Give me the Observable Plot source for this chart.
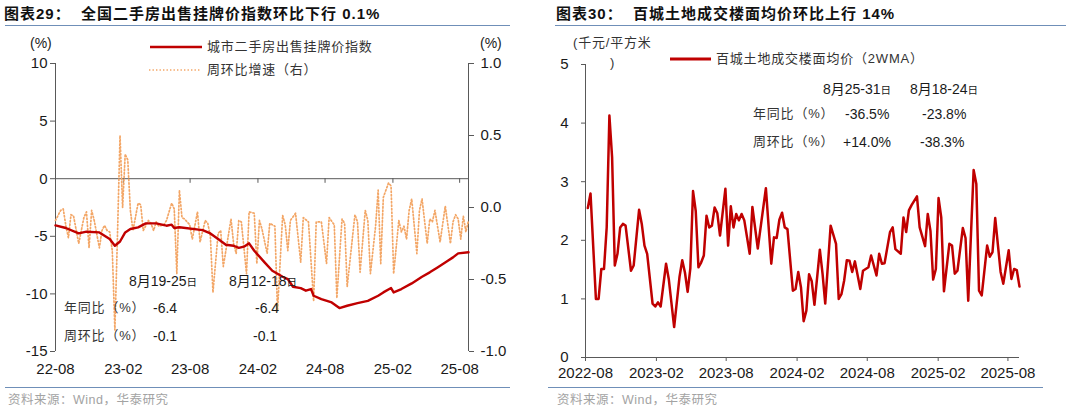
<!DOCTYPE html>
<html><head><meta charset="utf-8">
<script src="https://cdn.jsdelivr.net/npm/d3@7"></script>
<script src="https://cdn.jsdelivr.net/npm/@observablehq/plot@0.6"></script>
<style>
body{margin:0;background:#fff;overflow:hidden;}
#root{position:relative;width:1080px;height:410px;background:#fff;}
.abs{position:absolute;white-space:pre;line-height:20px;height:20px;}
.title{font-family:"Liberation Sans","Noto Sans CJK SC",sans-serif;font-weight:700;font-size:15px;letter-spacing:1px;color:#111;}
.hr{position:absolute;height:0;border-top:1.5px solid #6f8fb8;}
.src{font-family:"Liberation Sans","Noto Sans CJK SC",sans-serif;font-size:12.5px;color:#a3a3a3;letter-spacing:0.5px;}
.cjk{font-family:"Liberation Sans","Noto Sans CJK SC",sans-serif;font-size:13px;color:#333;letter-spacing:0.8px;}
.num{font-family:"Liberation Sans","Noto Sans CJK SC",sans-serif;font-size:14px;color:#1a1a1a;}
.sm{font-size:10.5px;}
</style></head><body>
<div id="root"></div>
<script>
// ---------- Data: left panel (全国二手房出售挂牌价指数), weekly, week index from 2022-08-01 ----------
const yoyWeeks  = [0,4,9,12,17,21,23,25,27,29,32,35,39,43,45,46,48,57,60,63,66,69,71,73,75,77,81,84,88,90,92,95,97,99,100,103,107,110,113,117,121,125,127,130,131,134,138,142,145,148,152,154,156,160];
const yoyValues = [-4.05,-4.28,-4.75,-4.60,-4.66,-5.24,-5.82,-5.45,-4.66,-4.37,-4.22,-3.88,-3.88,-4.08,-3.99,-4.28,-4.22,-4.46,-4.75,-5.24,-5.73,-5.82,-6.00,-5.90,-5.61,-6.25,-7.26,-7.99,-8.51,-8.71,-9.38,-9.50,-9.72,-9.58,-10.16,-10.45,-10.74,-11.23,-11.03,-10.80,-10.60,-10.16,-9.87,-9.49,-9.87,-9.58,-9.09,-8.51,-8.13,-7.70,-7.12,-6.83,-6.48,-6.39];

const wowWeeks  = [0,2,3,4,5,6,7,9,11,12,13,14,15,17,18,19,20,21,22,23,24,25,26,27,28,29,30,32,33,34,36,37,38,39,40,42,43,45,46,47,48,49,50,52,53,55,56,58,59,60,61,63,64,65,68,69,70,71,72,74,75,77,78,79,80,82,83,85,86,88,89,90,91,93,95,96,98,100,101,103,105,106,108,109,111,112,113,116,117,118,120,121,122,124,125,126,127,129,130,131,133,134,135,136,137,138,140,141,142,144,145,146,147,149,151,153,154,155,156,157,158,159,160];
const wowValues = [-0.09,-0.02,-0.01,-0.125,-0.21,-0.05,-0.06,-0.25,-0.07,-0.03,-0.28,-0.02,-0.09,-0.28,-0.16,-0.125,-0.16,-0.17,-0.30,-0.85,-0.20,0.50,0.00,0.37,0.33,-0.02,-0.16,0.03,0.02,-0.16,-0.09,-0.11,-0.16,-0.10,-0.13,-0.12,-0.09,0.03,-0.01,-0.46,0.12,-0.07,-0.08,-0.12,-0.22,-0.03,-0.24,-0.09,-0.11,-0.20,-0.59,-0.18,-0.16,-0.41,-0.08,-0.25,-0.32,-0.09,-0.10,-0.46,-0.03,-0.04,-0.39,-0.09,-0.15,-0.32,-0.11,-0.13,-0.72,-0.055,-0.12,-0.30,-0.09,-0.04,-0.38,-0.07,-0.10,-0.65,-0.10,-0.10,-0.39,-0.07,-0.12,-0.63,-0.08,-0.11,-0.55,-0.05,-0.10,-0.45,-0.02,-0.09,-0.46,-0.13,0.12,-0.39,0.07,0.17,0.15,-0.46,-0.09,-0.17,-0.13,-0.22,-0.02,0.06,-0.32,-0.02,0.06,-0.25,-0.08,-0.10,-0.02,-0.24,0.01,-0.25,-0.10,-0.05,-0.08,-0.22,-0.06,-0.17,-0.09];

const leftYTicks   = [-15,-10,-5,0,5,10];
const rightYTicks  = [-1.0,-0.5,0.0,0.5,1.0];
const leftXTicks   = ["2022-08-01","2023-02-01","2023-08-01","2024-02-01","2024-08-01","2025-02-01","2025-08-01"];
const leftXLabels  = ["22-08","23-02","23-08","24-02","24-08","25-02","25-08"];

// ---------- Data: right panel (百城土地成交楼面均价 2WMA), weekly, week index from 2022-08-07 ----------
const landWeeks  = [0,1,3,4,5,6,7,8,9,10,11,12,13,14,16,17,19,20,21,22,24,25,26,27,29,30,32,34,35,36,37,38,39,40,41,42,43,44,45,46,47,48,49,51,52,53,54,55,56,57,58,60,61,63,66,68,69,70,71,72,73,74,76,77,78,79,80,81,82,83,84,86,87,88,90,92,93,94,95,96,97,98,99,101,102,104,105,107,108,109,110,112,113,114,116,117,118,119,120,122,123,125,126,127,128,129,130,131,132,134,135,136,137,139,140,141,143,144,145,146,148,149,150,151,153,154,156,157,158,159,160];
const landValues = [2.55,2.80,1.00,1.00,1.51,1.51,2.22,4.13,3.42,1.57,1.77,2.22,2.28,2.25,1.48,1.57,2.52,2.28,1.91,1.77,0.92,0.87,0.94,0.87,1.60,1.34,0.52,1.38,1.66,1.45,1.12,1.52,2.84,2.50,1.54,1.62,1.74,2.42,2.22,2.25,2.56,2.46,2.08,2.88,1.91,2.58,2.22,2.45,2.34,2.45,2.34,1.77,2.57,1.86,2.89,1.60,2.05,2.04,2.35,2.47,2.22,2.19,1.14,1.17,1.46,1.20,0.62,0.80,1.42,1.30,0.90,1.84,1.43,0.92,2.25,1.94,1.00,1.08,1.31,1.66,1.65,1.46,1.64,1.17,1.48,1.54,1.74,1.40,1.77,1.60,1.61,2.14,2.22,1.85,1.77,2.39,2.14,2.51,2.60,2.75,2.22,1.90,2.45,2.16,1.33,1.51,2.72,2.39,1.13,1.94,1.91,1.43,1.48,2.21,2.04,0.97,3.20,2.96,1.14,1.06,1.91,1.72,1.80,2.38,1.46,1.26,1.83,1.34,1.51,1.49,1.21];

const landYTicks  = [0,1,2,3,4,5];
const rightXTicks = ["2022-08-01","2023-02-01","2023-08-01","2024-02-01","2024-08-01","2025-02-01","2025-08-01"];
const rightXLabels = ["2022-08","2023-02","2023-08","2024-02","2024-08","2025-02","2025-08"];

// ---------- helpers ----------
const DAY = 864e5;
const startL = Date.UTC(2022,7,1), startR = Date.UTC(2022,7,7);
const yoyData  = yoyWeeks.map((w,i)=>({date:new Date(startL + w*7*DAY), v:yoyValues[i]}));
const wowData  = wowWeeks.map((w,i)=>({date:new Date(startL + w*7*DAY), v:wowValues[i]}));
const landData = landWeeks.map((w,i)=>({date:new Date(startR + w*7*DAY), v:landValues[i]}));
const toLeft = r => -2.5 + 12.5*r;      // right axis (-1..1) onto left axis (-15..10)
const fromLeft = y => (y + 2.5)/12.5;
const lxt = leftXTicks.map(s=>new Date(s+"T00:00:00Z"));
const rxt = rightXTicks.map(s=>new Date(s+"T00:00:00Z"));
const lxMap = new Map(lxt.map((d,i)=>[+d, leftXLabels[i]]));
const rxMap = new Map(rxt.map((d,i)=>[+d, rightXLabels[i]]));

const root = document.getElementById("root");
function txt(s, x, yc, cls, html){
  const d = document.createElement("div");
  d.className = "abs " + cls;
  d.style.left = x + "px"; d.style.top = (yc - 10) + "px";
  if (html) d.innerHTML = s; else d.textContent = s;
  root.appendChild(d); return d;
}
function hr(x1, x2, y){
  const d = document.createElement("div");
  d.className = "hr"; d.style.left = x1+"px"; d.style.width = (x2-x1)+"px"; d.style.top = y+"px";
  root.appendChild(d);
}
function sample(x1, x2, y, color, w, dash){
  const ns = "http://www.w3.org/2000/svg";
  const s = document.createElementNS(ns,"svg");
  s.setAttribute("width", x2-x1); s.setAttribute("height", 8);
  s.style.position="absolute"; s.style.left=x1+"px"; s.style.top=(y-4)+"px";
  const l = document.createElementNS(ns,"line");
  l.setAttribute("x1",0); l.setAttribute("x2",x2-x1); l.setAttribute("y1",4); l.setAttribute("y2",4);
  l.setAttribute("stroke",color); l.setAttribute("stroke-width",w);
  if (dash) l.setAttribute("stroke-dasharray",dash);
  s.appendChild(l); root.appendChild(s);
}
const axisColor = "#595959";
const font = {fontFamily:"'Liberation Sans', Arial, sans-serif", fontSize:"15px", color:"#1a1a1a", background:"transparent", maxWidth:"none"};

// ---------- Left chart ----------
const x0L = new Date(Date.UTC(2022,7,1)), x1L = new Date(Date.UTC(2025,7,25));
const leftPlot = Plot.plot({
  width: 540, height: 357, marginLeft: 55, marginRight: 72, marginTop: 35, marginBottom: 34,
  style: font,
  x: {type:"utc", domain:[x0L, x1L]},
  y: {domain:[-15, 10]},
  marks: [
    Plot.ruleY([0], {stroke: axisColor, strokeWidth: 1}),
    Plot.ruleX(lxt, {x: d=>d, y1: 0, y2: -0.4, stroke: axisColor}),
    Plot.ruleX([x0L], {stroke: axisColor}),
    Plot.ruleX([x1L], {stroke: axisColor}),
    Plot.axisY(leftYTicks, {anchor:"left", tickSize:5, tickPadding:3, stroke: axisColor, tickFormat: d=>String(d), label:null}),
    Plot.axisY(rightYTicks.map(toLeft), {anchor:"right", tickSize:5, tickPadding:7, stroke: axisColor, tickFormat: d=>fromLeft(d).toFixed(1), label:null}),
    Plot.axisX(lxt, {anchor:"bottom", tickSize:0, tickPadding:12, tickFormat: d=>lxMap.get(+d), label:null}),
    Plot.line(wowData, {x:"date", y: d=>toLeft(d.v), stroke:"#f3a666", strokeWidth:1.7, strokeDasharray:"1.4,2.1"}),
    Plot.line(yoyData, {x:"date", y:"v", stroke:"#c00000", strokeWidth:2.4})
  ]
});
leftPlot.style.position="absolute"; leftPlot.style.left="0px"; leftPlot.style.top="28px"; leftPlot.style.maxWidth="none";
root.appendChild(leftPlot);

// ---------- Right chart ----------
const x0R = new Date(Date.UTC(2022,7,1)), x1R = new Date(Date.UTC(2025,7,31));
const rightPlot = Plot.plot({
  width: 540, height: 360, marginLeft: 45, marginRight: 61, marginTop: 36, marginBottom: 31,
  style: font,
  x: {type:"utc", domain:[x0R, x1R]},
  y: {domain:[0, 5]},
  marks: [
    Plot.ruleX([x0R], {stroke: axisColor}),
    Plot.ruleY([0], {stroke: axisColor}),
    Plot.axisY(landYTicks, {anchor:"left", tickSize:4, tickPadding:13, stroke: axisColor, tickFormat: d=>String(d), label:null}),
    Plot.axisX(rxt, {anchor:"bottom", tickSize:4, tickPadding:6, stroke: axisColor, tickFormat: d=>rxMap.get(+d), label:null}),
    Plot.line(landData, {x:"date", y:"v", stroke:"#c00000", strokeWidth:2.5})
  ]
});
rightPlot.style.position="absolute"; rightPlot.style.left="540px"; rightPlot.style.top="28px"; rightPlot.style.maxWidth="none";
root.appendChild(rightPlot);

// ---------- Titles, rules, sources ----------
txt("图表29：  全国二手房出售挂牌价指数环比下行 0.1%", 4, 14, "title");
txt("图表30：  百城土地成交楼面均价环比上行 14%", 556, 14, "title");
hr(5, 510, 25); hr(555, 1066, 25);
hr(5, 510, 387); hr(548, 1043, 387);
txt("资料来源：Wind，华泰研究", 8, 400, "src");
txt("资料来源：Wind，华泰研究", 557, 400, "src");

// ---------- Left legend & annotations ----------
txt("(%)", 30, 43, "num");
txt("(%)", 480, 43, "num");
sample(150, 202, 47, "#c00000", 2.5);
txt("城市二手房出售挂牌价指数", 207, 47, "cjk");
sample(149, 201, 70, "#f3a666", 1.7, "1.4,2.1");
txt("周环比增速（右）", 207, 70, "cjk");
txt('8月19-25<span class="sm">日</span>', 129, 281, "num", true);
txt('8月12-18<span class="sm">日</span>', 229, 281, "num", true);
txt("年同比（%）", 64, 308, "cjk");
txt("周环比（%）", 64, 336, "cjk");
txt("-6.4", 153, 308, "num");
txt("-6.4", 255, 308, "num");
txt("-0.1", 153, 336, "num");
txt("-0.1", 253, 336, "num");

// ---------- Right legend & annotations ----------
txt("(千元/平方米", 573, 43, "cjk");
txt(")", 610, 63, "cjk");
sample(670, 711, 59, "#c00000", 3);
txt("百城土地成交楼面均价（2WMA）", 716, 59, "cjk");
txt('8月25-31<span class="sm">日</span>', 823, 89, "num", true);
txt('8月18-24<span class="sm">日</span>', 910, 89, "num", true);
txt("年同比（%）", 753, 114, "cjk");
txt("周环比（%）", 753, 142, "cjk");
txt("-36.5%", 845, 114, "num");
txt("-23.8%", 922, 114, "num");
txt("+14.0%", 843, 142, "num");
txt("-38.3%", 920, 142, "num");
</script>
</body></html>
